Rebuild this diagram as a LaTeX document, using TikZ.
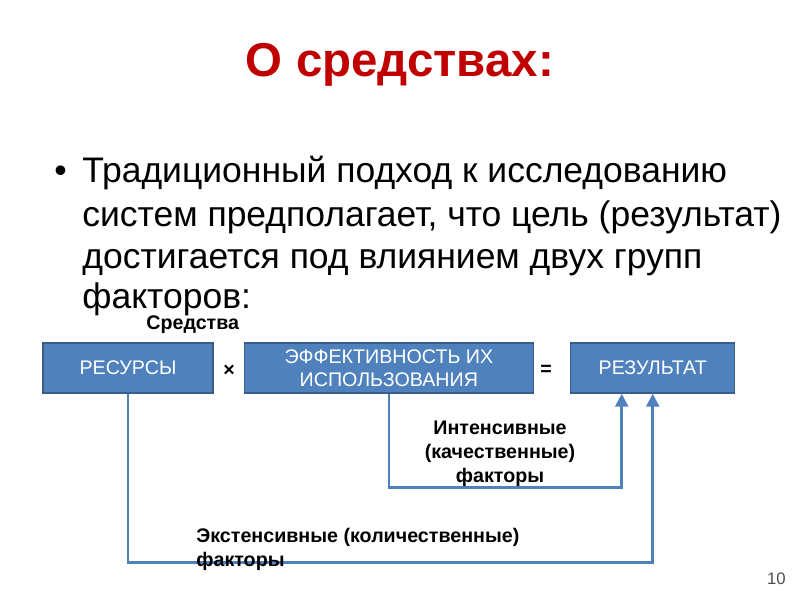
\documentclass[tikz,border=0pt]{standalone}
\usepackage{fontspec}
\setmainfont{Liberation Sans}
\usetikzlibrary{arrows.meta, positioning}
\definecolor{titlered}{RGB}{192, 0, 0}
\definecolor{boxblue}{RGB}{79, 129, 189}
\definecolor{boxedge}{RGB}{56, 93, 138}

\begin{document}
\begin{tikzpicture}[
    x=0.02cm, y=-0.02cm,
    box/.style={rectangle, minimum height=1cm, inner sep=0pt, align=center, draw=boxedge, line width=0.8pt, fill=boxblue, text=white, font=\fontsize{11.2}{13}\selectfont},
    bodyline/.style={anchor=base west, inner sep=0pt, font=\fontsize{20.2}{24}\selectfont},
    label/.style={inner sep=0pt, font=\bfseries\fontsize{11.2}{13.6}\selectfont},
    conn/.style={draw=boxblue, line width=1.4pt, -{Triangle[length=0.26cm, width=0.26cm]}}
]
    \useasboundingbox (0,0) rectangle (800,600);

    % title and text
    \node[anchor=base, inner sep=0pt, text=titlered, font=\bfseries\fontsize{27}{32}\selectfont] (title) at (400,76) {О средствах:};
    \node[bodyline] (bullet) at (54,182) {•};
    \node[bodyline] (line1) at (82,182) {Традиционный подход к исследованию};
    \node[bodyline] (line2) at (82,226) {систем предполагает, что цель (результат)};
    \node[bodyline] (line3) at (82,268) {достигается под влиянием двух групп};
    \node[bodyline] (line4) at (82,308) {факторов:};

    \node[label, anchor=base west] (means) at (146,329) {Средства};

    % boxes
    \node[box, minimum width=3.4cm] (res) at (128,368) {РЕСУРСЫ};
    \node[box, minimum width=5.78cm, right=0.6cm of res] (eff) {ЭФФЕКТИВНОСТЬ ИХ\\ИСПОЛЬЗОВАНИЯ};
    \node[box, minimum width=3.28cm, right=0.72cm of eff] (result) {РЕЗУЛЬТАТ};
    \node[label] (times) at (229,371) {×};
    \node[label] (equals) at (546,370) {=};

    % factors
    \draw[conn] (eff.south) -- ++(0,94) -| ([xshift=-0.62cm]result.south);
    \draw[conn] (res.south) -- ++(0,169) -| (result.south);

    \node[label, align=center, anchor=base] (intens) at (500,482) {Интенсивные\\(качественные)\\факторы};
    \node[label, align=left, anchor=base west] (extens) at (196,566) {Экстенсивные (количественные)\\факторы};

    \node[anchor=base east, inner sep=0pt, text=black!70, font=\fontsize{9.5}{11}\selectfont] (page) at (786,584) {10};
\end{tikzpicture}
\end{document}
